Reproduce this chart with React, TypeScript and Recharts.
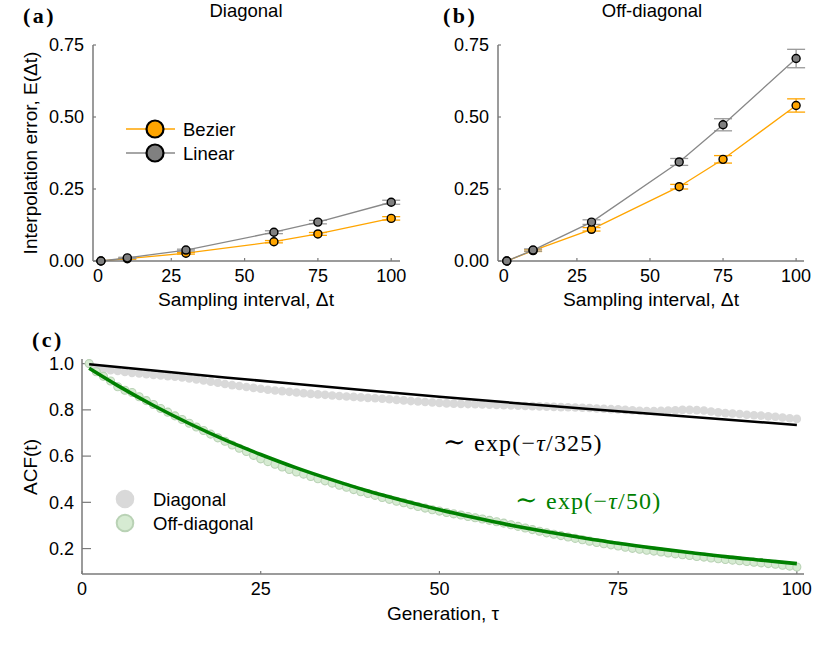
import React from 'react';
import { ComposedChart, Line, XAxis, YAxis, ErrorBar, Legend } from 'recharts';

// ---------- panels (a) & (b): interpolation error ----------
const dtValues = [1, 10, 30, 60, 75, 100];
const diagBezier = [0, 0.008, 0.027, 0.067, 0.094, 0.148];
const diagBezierErr = [0, 0.002, 0.003, 0.004, 0.005, 0.006];
const diagLinear = [0, 0.011, 0.038, 0.1, 0.135, 0.204];
const diagLinearErr = [0, 0.002, 0.003, 0.005, 0.006, 0.007];
const offBezier = [0, 0.036, 0.11, 0.258, 0.353, 0.54];
const offBezierErr = [0, 0.003, 0.006, 0.008, 0.013, 0.023];
const offLinear = [0, 0.038, 0.135, 0.344, 0.473, 0.703];
const offLinearErr = [0, 0.004, 0.008, 0.012, 0.021, 0.032];
const dtTicks = [0, 25, 50, 75, 100];
const errTicks = [0, 0.25, 0.5, 0.75];

// ---------- panel (c): autocorrelation ----------
const diagACF = [
  1.0, 0.98, 0.976, 0.972, 0.968, 0.964, 0.96, 0.957, 0.954, 0.951,
  0.949, 0.946, 0.943, 0.94, 0.936, 0.932, 0.927, 0.922, 0.917, 0.912,
  0.907, 0.903, 0.899, 0.895, 0.891, 0.887, 0.884, 0.881, 0.878, 0.875,
  0.872, 0.869, 0.867, 0.865, 0.862, 0.86, 0.858, 0.856, 0.854, 0.852,
  0.85, 0.848, 0.846, 0.843, 0.841, 0.838, 0.836, 0.834, 0.832, 0.83,
  0.828, 0.827, 0.826, 0.825, 0.824, 0.823, 0.822, 0.821, 0.82, 0.819,
  0.818, 0.817, 0.816, 0.815, 0.814, 0.813, 0.812, 0.811, 0.81, 0.809,
  0.808, 0.806, 0.805, 0.803, 0.802, 0.8, 0.798, 0.796, 0.795, 0.795,
  0.796, 0.797, 0.798, 0.8, 0.8, 0.799, 0.797, 0.793, 0.789, 0.786,
  0.784, 0.782, 0.779, 0.777, 0.775, 0.772, 0.77, 0.767, 0.764, 0.761,
];
const offDiagACF = [
  1.0, 0.965, 0.945, 0.925, 0.9, 0.885, 0.875, 0.857, 0.84, 0.823,
  0.806, 0.79, 0.774, 0.758, 0.742, 0.726, 0.711, 0.695, 0.679, 0.664,
  0.648, 0.634, 0.62, 0.603, 0.588, 0.576, 0.565, 0.553, 0.542, 0.531,
  0.522, 0.512, 0.502, 0.493, 0.483, 0.474, 0.465, 0.455, 0.446, 0.438,
  0.43, 0.421, 0.413, 0.405, 0.398, 0.39, 0.382, 0.375, 0.368, 0.362,
  0.356, 0.35, 0.345, 0.339, 0.333, 0.328, 0.322, 0.316, 0.31, 0.303,
  0.296, 0.289, 0.282, 0.275, 0.268, 0.262, 0.256, 0.25, 0.244, 0.238,
  0.232, 0.226, 0.221, 0.216, 0.211, 0.206, 0.201, 0.197, 0.193, 0.189,
  0.185, 0.181, 0.177, 0.173, 0.17, 0.166, 0.163, 0.159, 0.156, 0.153,
  0.15, 0.147, 0.144, 0.141, 0.138, 0.135, 0.132, 0.128, 0.124, 0.12,
];
const slowFitTau = [1, 10, 20, 30, 40, 50, 60, 70, 80, 90, 100];
const slowFitVal = [0.997, 0.97, 0.94, 0.912, 0.884, 0.857, 0.831, 0.806, 0.782, 0.758, 0.735];
const fastFitTau = [1, 5, 10, 15, 20, 25, 30, 35, 40, 45, 50, 55, 60, 65, 70, 75, 80, 85, 90, 95, 100];
const fastFitVal = [0.98, 0.905, 0.819, 0.741, 0.67, 0.607, 0.549, 0.497, 0.449, 0.407, 0.368, 0.333, 0.301, 0.273, 0.247, 0.223, 0.202, 0.183, 0.165, 0.15, 0.135];
const tauTicks = [0, 25, 50, 75, 100];
const acfTicks = [0.2, 0.4, 0.6, 0.8, 1.0];
const tauDomain = [0, 101];
const acfDomain = [0.09, 1.02];

const ORANGE = '#FFA500';
const GREY = '#808080';
const AXIS = '#7a7a7a';
const SANS = 'Liberation Sans, Arial, sans-serif';
const SERIF = 'Liberation Serif, Times New Roman, serif';

const diagData = dtValues.map((dt, i) => ({
  dt, bezier: diagBezier[i], bezierErr: diagBezierErr[i], linear: diagLinear[i], linearErr: diagLinearErr[i],
}));
const offData = dtValues.map((dt, i) => ({
  dt, bezier: offBezier[i], bezierErr: offBezierErr[i], linear: offLinear[i], linearErr: offLinearErr[i],
}));
const diagPoints = diagACF.map((v, i) => ({ tau: i + 1, acf: v }));
const offPoints = offDiagACF.map((v, i) => ({ tau: i + 1, acf: v }));
const slowFit = slowFitTau.map((t, i) => ({ tau: t, fit: slowFitVal[i] }));
const fastFit = fastFitTau.map((t, i) => ({ tau: t, fit: fastFitVal[i] }));

const tickStyle = { fill: '#000', fontSize: 18, fontFamily: SANS };

const legendA = [
  { name: 'Bezier', color: ORANGE, line: ORANGE },
  { name: 'Linear', color: GREY, line: '#888' },
];
const legendC = [
  { name: 'Diagonal', fill: '#d9d9d9', stroke: '#d9d9d9' },
  { name: 'Off-diagonal', fill: '#d6ebd2', stroke: '#b9d2b5' },
];

const LegendABox = () => (
  <svg width={130} height={52} style={{ overflow: 'visible', display: 'block' }}>
    {legendA.map((it, i) => (
      <g key={it.name}>
        <line x1={6} x2={55} y1={14 + i * 24} y2={14 + i * 24} stroke={it.line} strokeWidth={1.5} />
        <circle cx={35} cy={14 + i * 24} r={8.5} fill={it.color} stroke="#000" strokeWidth={2.2} />
        <text x={63} y={20.5 + i * 24} fontSize={18.5} fontFamily={SANS} fill="#000">{it.name}</text>
      </g>
    ))}
  </svg>
);

const LegendCBox = () => (
  <svg width={160} height={52} style={{ overflow: 'visible', display: 'block' }}>
    {legendC.map((it, i) => (
      <g key={it.name}>
        <circle cx={15} cy={14 + i * 24} r={8.3} fill={it.fill} stroke={it.stroke} strokeWidth={2} />
        <text x={43} y={20.5 + i * 24} fontSize={18.5} fontFamily={SANS} fill="#000">{it.name}</text>
      </g>
    ))}
  </svg>
);

const diagDot = (p: any) => (
  <circle key={`d-${p.index}`} cx={p.cx} cy={p.cy} r={4.3} fill="#d9d9d9" />
);
const offDot = (p: any) => (
  <circle key={`o-${p.index}`} cx={p.cx} cy={p.cy} r={4} fill="#d6ebd2" stroke="#b9d2b5" strokeWidth={1.1} />
);

const xAxisErr = (domain: number[]) => (
  <XAxis
    type="number"
    dataKey="dt"
    domain={domain}
    ticks={dtTicks}
    interval={0}
    height={40}
    tickSize={-3}
    tickMargin={11}
    tick={tickStyle}
    axisLine={{ stroke: AXIS, strokeWidth: 1.5 }}
    tickLine={{ stroke: AXIS, strokeWidth: 1.2 }}
  />
);

const yAxisErr = () => (
  <YAxis
    type="number"
    domain={[0, 0.75]}
    ticks={errTicks}
    interval={0}
    width={60}
    tickSize={-3}
    tickMargin={12}
    tick={tickStyle}
    tickFormatter={(v: number) => v.toFixed(2)}
    axisLine={{ stroke: AXIS, strokeWidth: 1.5 }}
    tickLine={{ stroke: AXIS, strokeWidth: 1.2 }}
  />
);

const errSeries = () => [
  <Line
    key="bez"
    name="Bezier"
    dataKey="bezier"
    stroke={ORANGE}
    strokeWidth={1.3}
    isAnimationActive={false}
    dot={{ r: 4, fill: ORANGE, stroke: '#000', strokeWidth: 1.4 }}
    activeDot={false}
  >
    <ErrorBar dataKey="bezierErr" width={9} stroke={ORANGE} strokeWidth={1.3} direction="y" />
  </Line>,
  <Line
    key="lin"
    name="Linear"
    dataKey="linear"
    stroke="#888"
    strokeWidth={1.3}
    isAnimationActive={false}
    dot={{ r: 4, fill: GREY, stroke: '#000', strokeWidth: 1.4 }}
    activeDot={false}
  >
    <ErrorBar dataKey="linearErr" width={9} stroke="#999" strokeWidth={1.3} direction="y" />
  </Line>,
];

export default function App() {
  return (
    <div style={{ position: 'absolute', left: 0, top: 0, width: 830, height: 646, background: '#fff', overflow: 'hidden' }}>
      <div style={{ position: 'absolute', left: 0, top: 0, width: 410, height: 310 }}>
        <ComposedChart width={410} height={310} data={diagData} margin={{ top: 45, right: 10, left: 33, bottom: 9 }}>
          {xAxisErr([-1.7, 103])}
          {yAxisErr()}
          <Legend
            layout="horizontal"
            verticalAlign="middle"
            align="center"
            content={() => <LegendABox />}
            wrapperStyle={{ position: 'absolute', left: 120, top: 115, width: 130, height: 52 }}
          />
          {errSeries()}
        </ComposedChart>
      </div>

      <div style={{ position: 'absolute', left: 410, top: 0, width: 410, height: 310 }}>
        <ComposedChart width={410} height={310} data={offData} margin={{ top: 45, right: 16, left: 28, bottom: 9 }}>
          {xAxisErr([-2.0, 102.7])}
          {yAxisErr()}
          {errSeries()}
        </ComposedChart>
      </div>

      {/* panel (c): data points */}
      <div style={{ position: 'absolute', left: 0, top: 330, width: 830, height: 316 }}>
        <ComposedChart width={830} height={316} margin={{ top: 29, right: 26, left: 22, bottom: 22 }}>
          <XAxis
            type="number"
            dataKey="tau"
            domain={tauDomain}
            ticks={tauTicks}
            interval={0}
            height={50}
            tickSize={-3}
            tickMargin={11}
            tick={tickStyle}
            axisLine={{ stroke: AXIS, strokeWidth: 1.5 }}
            tickLine={{ stroke: AXIS, strokeWidth: 1.2 }}
          />
          <YAxis
            type="number"
            domain={acfDomain}
            ticks={acfTicks}
            interval={0}
            width={60}
            tickSize={-9}
            tickMargin={17}
            tick={tickStyle}
            tickFormatter={(v: number) => v.toFixed(1)}
            axisLine={{ stroke: AXIS, strokeWidth: 1.5 }}
            tickLine={{ stroke: AXIS, strokeWidth: 1.2 }}
          />
          <Legend
            layout="horizontal"
            verticalAlign="middle"
            align="center"
            content={() => <LegendCBox />}
            wrapperStyle={{ position: 'absolute', left: 110, top: 155, width: 160, height: 52 }}
          />
          <Line
            name="Diagonal"
            data={diagPoints}
            dataKey="acf"
            stroke="none"
            strokeWidth={0}
            dot={diagDot}
            activeDot={false}
            isAnimationActive={false}
          />
          <Line
            name="Off-diagonal"
            data={offPoints}
            dataKey="acf"
            stroke="none"
            strokeWidth={0}
            dot={offDot}
            activeDot={false}
            isAnimationActive={false}
          />
        </ComposedChart>
      </div>

      {/* panel (c): exponential fits drawn on top of the points, same scales */}
      <div style={{ position: 'absolute', left: 0, top: 330, width: 830, height: 316, pointerEvents: 'none' }}>
        <ComposedChart width={830} height={316} margin={{ top: 29, right: 26, left: 82, bottom: 72 }}>
          <XAxis type="number" dataKey="tau" domain={tauDomain} hide />
          <YAxis type="number" domain={acfDomain} hide />
          <Line
            data={slowFit}
            dataKey="fit"
            type="linear"
            stroke="#000"
            strokeWidth={2.5}
            dot={false}
            activeDot={false}
            isAnimationActive={false}
          />
          <Line
            data={fastFit}
            dataKey="fit"
            type="monotone"
            stroke="#008000"
            strokeWidth={3.6}
            dot={false}
            activeDot={false}
            isAnimationActive={false}
          />
        </ComposedChart>
      </div>

      <svg width={830} height={646} style={{ position: 'absolute', left: 0, top: 0, pointerEvents: 'none' }}>
        <text x={23} y={23} fontFamily={SERIF} fontWeight="bold" fontSize={22} letterSpacing={2.5}>(a)</text>
        <text x={443} y={23} fontFamily={SERIF} fontWeight="bold" fontSize={22} letterSpacing={2.5}>(b)</text>
        <text x={32} y={347} fontFamily={SERIF} fontWeight="bold" fontSize={22} letterSpacing={2.5}>(c)</text>
        <text x={246} y={17} textAnchor="middle" fontFamily={SANS} fontSize={18.5}>Diagonal</text>
        <text x={652} y={17} textAnchor="middle" fontFamily={SANS} fontSize={18.5}>Off-diagonal</text>
        <text x={246} y={306} textAnchor="middle" fontFamily={SANS} fontSize={19.2}>Sampling interval, Δt</text>
        <text x={651} y={306} textAnchor="middle" fontFamily={SANS} fontSize={19.2}>Sampling interval, Δt</text>
        <text x={443} y={620} textAnchor="middle" fontFamily={SANS} fontSize={19}>Generation, τ</text>
        <text transform="translate(37,153) rotate(-90)" textAnchor="middle" fontFamily={SANS} fontSize={19}>Interpolation error, E(Δt)</text>
        <text transform="translate(37,467) rotate(-90)" textAnchor="middle" fontFamily={SANS} fontSize={19}>ACF(t)</text>
        <text x={443} y={451} fontFamily={SERIF} fontSize={24} letterSpacing={1.2} fill="#000">
          <tspan fontFamily="DejaVu Serif" fontSize={27}>∼</tspan> exp(−<tspan fontStyle="italic">τ</tspan>/325)
        </text>
        <text x={515} y={509} fontFamily={SERIF} fontSize={24} letterSpacing={1.2} fill="#008000">
          <tspan fontFamily="DejaVu Serif" fontSize={27}>∼</tspan> exp(−<tspan fontStyle="italic">τ</tspan>/50)
        </text>
      </svg>
    </div>
  );
}
